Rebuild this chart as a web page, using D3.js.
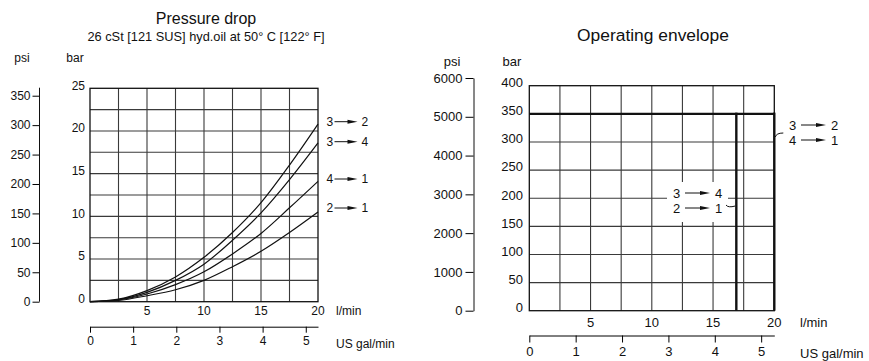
<!DOCTYPE html>
<html>
<head>
<meta charset="utf-8">
<script src="https://cdn.jsdelivr.net/npm/d3@7"></script>
<style>
  body { margin: 0; background: #fff; }
  svg { display: block; font-family: "Liberation Sans", Arial, sans-serif; }
  text { fill: #111; }
</style>
</head>
<body>
<div class="container"></div>
<script>
// pressure drop curves, l/min vs bar
var flowLmin = [0, 2.5, 5, 7.5, 10, 12.5, 15, 17.5, 20];
var dp32 = [0, 0.3, 1.3, 2.9, 5.2, 8.1, 11.6, 16.0, 20.8];
var dp34 = [0, 0.25, 1.1, 2.5, 4.4, 7.2, 10.4, 14.3, 18.6];
var dp41 = [0, 0.2, 0.9, 2.0, 3.5, 5.6, 8.0, 11.0, 14.1];
var dp21 = [0, 0.15, 0.7, 1.4, 2.5, 4.1, 5.9, 8.1, 10.5];
var curveLabels = [["3", "2"], ["3", "4"], ["4", "1"], ["2", "1"]];

// operating envelope: max flow l/min / max pressure bar
var envFlow = [20, 16.9];
var envPressure = [350, 350];
var envLabels = [[["3", "2"], ["4", "1"]], [["3", "4"], ["2", "1"]]];

var barTicksLeft = [0, 5, 10, 15, 20, 25];
var psiTicksLeft = [0, 50, 100, 150, 200, 250, 300, 350];
var barTicksRight = [0, 50, 100, 150, 200, 250, 300, 350, 400];
var psiTicksRight = [0, 1000, 2000, 3000, 4000, 5000, 6000];
var lminTicks = [5, 10, 15, 20];
var galTicks = [0, 1, 2, 3, 4, 5];

var PSI_PER_BAR = 14.5038;
var LMIN_PER_GAL = 3.78541;

var svg = d3.select(".container").append("svg").attr("width", 869).attr("height", 361);

// "a ──► b", arrow from x+a0 to x+a1, second digit at x+bx
function arrowLabel(g, x, y, a, b, fs, a0, a1, bx) {
  g.append("text").attr("x", x).attr("y", y).attr("dy", "0.35em")
    .attr("font-size", fs).text(a);
  g.append("line").attr("x1", x + a0).attr("x2", x + a1 - 6).attr("y1", y).attr("y2", y)
    .attr("stroke", "#111").attr("stroke-width", 1);
  g.append("path").attr("d", "M" + (x + a1 - 10) + "," + (y - 2) + "L" + (x + a1) + "," + y + "L" + (x + a1 - 10) + "," + (y + 2) + "Z")
    .attr("fill", "#111");
  g.append("text").attr("x", x + bx).attr("y", y).attr("dy", "0.35em")
    .attr("font-size", fs).text(b);
}

function drawGrid(g, x, y, xStep, yStep, xMax, yMax) {
  var xs = d3.range(xStep, xMax, xStep);
  var ys = d3.range(yStep, yMax, yStep);
  g.selectAll(".vg").data(xs).enter().append("line")
    .attr("x1", d => x(d)).attr("x2", d => x(d))
    .attr("y1", y(0)).attr("y2", y(yMax))
    .attr("stroke", "#3a3a3a").attr("stroke-width", 1.1);
  g.selectAll(".hg").data(ys).enter().append("line")
    .attr("x1", x(0)).attr("x2", x(xMax))
    .attr("y1", d => y(d)).attr("y2", d => y(d))
    .attr("stroke", "#3a3a3a").attr("stroke-width", 1.1);
  g.append("rect").attr("x", x(0)).attr("y", y(yMax))
    .attr("width", x(xMax) - x(0)).attr("height", y(0) - y(yMax))
    .attr("fill", "none").attr("stroke", "#111").attr("stroke-width", 1.3);
}

function styleAxisText(a, fs) {
  a.selectAll("text").attr("font-size", fs).attr("font-family", null).attr("fill", "#111");
}

// ---------------- left chart: pressure drop ----------------
(function () {
  var fs = 12;
  var x = d3.scaleLinear().domain([0, 20]).range([90, 318]);
  var y = d3.scaleLinear().domain([0, 25]).range([301.7, 88.3]);
  var yPsi = d3.scaleLinear().domain([0, 350]).range([y(0), y(350 / PSI_PER_BAR)]);
  var xGal = d3.scaleLinear().domain([0, 20 / LMIN_PER_GAL]).range([x(0), x(20)]);
  var g = svg.append("g");

  g.append("text").attr("x", 206).attr("y", 24).attr("text-anchor", "middle")
    .attr("font-size", 16).text("Pressure drop");
  g.append("text").attr("x", 206).attr("y", 41).attr("text-anchor", "middle")
    .attr("font-size", 12.8).text("26 cSt [121 SUS] hyd.oil at 50° C [122° F]");
  g.append("text").attr("x", 22).attr("y", 62).attr("text-anchor", "middle")
    .attr("font-size", fs).text("psi");
  g.append("text").attr("x", 75).attr("y", 62).attr("text-anchor", "middle")
    .attr("font-size", fs).text("bar");

  drawGrid(g, x, y, 2.5, 2.5, 20, 25);

  var line = d3.line().x((d, i) => x(flowLmin[i])).y(d => y(d)).curve(d3.curveMonotoneX);
  g.selectAll(".curve").data([dp32, dp34, dp41, dp21]).enter().append("path")
    .attr("d", line).attr("fill", "none").attr("stroke", "#111").attr("stroke-width", 1.2);

  g.selectAll(".bl").data(barTicksLeft).enter().append("text")
    .attr("x", 85).attr("y", d => y(d)).attr("dy", "0.1em").attr("text-anchor", "end")
    .attr("font-size", fs).text(d => d);

  g.selectAll(".xl").data(lminTicks).enter().append("text")
    .attr("x", d => x(d)).attr("y", 315).attr("text-anchor", "middle")
    .attr("font-size", fs).text(d => d);
  g.append("text").attr("x", 336).attr("y", 315).attr("font-size", fs).text("l/min");

  var pa = g.append("g").attr("transform", "translate(39.5,0)")
    .call(d3.axisLeft(yPsi).tickValues(psiTicksLeft).tickFormat(d3.format("d"))
      .tickSize(7).tickSizeOuter(0).tickPadding(2));
  pa.select(".domain").remove();
  pa.append("line").attr("x1", 0).attr("x2", 0).attr("y1", yPsi(350) - 8).attr("y2", yPsi(0))
    .attr("stroke", "#111");
  styleAxisText(pa, fs);

  var ga = g.append("g").attr("transform", "translate(0,326.7)")
    .call(d3.axisBottom(xGal).tickValues(galTicks).tickFormat(d3.format("d"))
      .tickSize(6).tickSizeOuter(0).tickPadding(4));
  styleAxisText(ga, fs);
  g.append("text").attr("x", 336).attr("y", 348).attr("font-size", fs).text("US gal/min");

  var labelY = [121.7, 141.7, 179, 208];
  curveLabels.forEach(function (d, i) {
    arrowLabel(g, 326.5, labelY[i], d[0], d[1], fs, 8, 31, 35);
  });
})();

// ---------------- right chart: operating envelope ----------------
(function () {
  var fs = 13;
  var x = d3.scaleLinear().domain([0, 20]).range([529.3, 774.3]);
  var y = d3.scaleLinear().domain([0, 400]).range([310.7, 85.7]);
  var yPsi = d3.scaleLinear().domain([0, 6000]).range([y(0), y(6000 / PSI_PER_BAR)]);
  var xGal = d3.scaleLinear().domain([0, 20 / LMIN_PER_GAL]).range([x(0), x(20)]);
  var g = svg.append("g");

  g.append("text").attr("x", 653).attr("y", 41).attr("text-anchor", "middle")
    .attr("font-size", 17.4).text("Operating envelope");
  g.append("text").attr("x", 452).attr("y", 66).attr("text-anchor", "middle")
    .attr("font-size", fs).text("psi");
  g.append("text").attr("x", 512).attr("y", 66).attr("text-anchor", "middle")
    .attr("font-size", fs).text("bar");

  drawGrid(g, x, y, 2.5, 50, 20, 400);

  // white box behind middle labels
  g.append("rect").attr("x", 667).attr("y", 182).attr("width", 61).attr("height", 40).attr("fill", "#fff");

  var maxP = d3.max(envPressure);
  g.append("line").attr("x1", x(0)).attr("x2", x(d3.max(envFlow)))
    .attr("y1", y(maxP)).attr("y2", y(maxP)).attr("stroke", "#111").attr("stroke-width", 2.4);
  g.selectAll(".env").data(envFlow).enter().append("line")
    .attr("x1", d => x(d)).attr("x2", d => x(d))
    .attr("y1", (d, i) => y(envPressure[i]) - 1.2).attr("y2", y(0))
    .attr("stroke", "#111").attr("stroke-width", 2.4);

  g.selectAll(".bl").data(barTicksRight).enter().append("text")
    .attr("x", 523).attr("y", d => y(d)).attr("dy", "0.1em").attr("text-anchor", "end")
    .attr("font-size", fs).text(d => d);

  g.selectAll(".xl").data(lminTicks).enter().append("text")
    .attr("x", d => x(d)).attr("y", 327).attr("text-anchor", "middle")
    .attr("font-size", fs).text(d => d);
  g.append("text").attr("x", 800).attr("y", 327).attr("font-size", fs).text("l/min");

  var pa = g.append("g").attr("transform", "translate(473.5,0)")
    .call(d3.axisLeft(yPsi).tickValues(psiTicksRight).tickFormat(d3.format("d"))
      .tickSize(8).tickSizeOuter(0).tickPadding(3));
  pa.select(".domain").attr("stroke", "#111");
  styleAxisText(pa, fs);

  var ga = g.append("g").attr("transform", "translate(0,335.5)")
    .call(d3.axisBottom(xGal).tickValues(galTicks).tickFormat(d3.format("d"))
      .tickSize(7).tickSizeOuter(0).tickPadding(4));
  styleAxisText(ga, fs);
  g.append("text").attr("x", 800).attr("y", 358).attr("font-size", fs).text("US gal/min");

  var lx = [789, 673];
  var ly = [125, 193];
  envLabels.forEach(function (pair, i) {
    arrowLabel(g, lx[i], ly[i], pair[0][0], pair[0][1], fs, 12, 37, 42);
    arrowLabel(g, lx[i], ly[i] + 15, pair[1][0], pair[1][1], fs, 12, 37, 42);
  });
  g.append("path").attr("d", "M" + (x(envFlow[0]) + 1) + ",137 Q" + (x(envFlow[0]) + 2) + ",133 " + (x(envFlow[0]) + 9) + ",133")
    .attr("fill", "none").attr("stroke", "#111");
  g.append("path").attr("d", "M726,205 Q728,208 " + (x(envFlow[1]) - 1) + ",206")
    .attr("fill", "none").attr("stroke", "#111");
})();
</script>
</body>
</html>
